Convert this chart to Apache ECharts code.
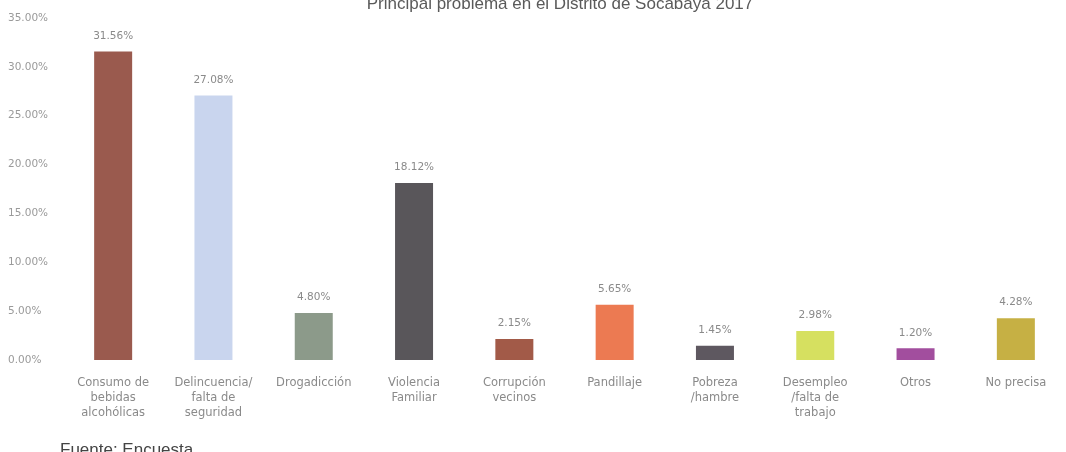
<!DOCTYPE html>
<html><head><meta charset="utf-8">
<script src="https://cdn.jsdelivr.net/npm/echarts@6/dist/echarts.min.js"></script>
<style>html,body{margin:0;padding:0;background:#fff;}#c{width:1066px;height:452px;}</style>
</head><body><div id="c"></div>
<script>
var categories = ["Consumo de\nbebidas\nalcohólicas","Delincuencia/\nfalta de\nseguridad","Drogadicción","Violencia\nFamiliar","Corrupción\nvecinos","Pandillaje","Pobreza\n/hambre","Desempleo\n/falta de\ntrabajo","Otros","No precisa"];
var values = [31.56, 27.08, 4.80, 18.12, 2.15, 5.65, 1.45, 2.98, 1.20, 4.28];
var colors = ["#9a5a4e","#c9d5ee","#8c9a8a","#59565a","#a25a48","#ec7a52","#5e5860","#d6e060","#a24e9e","#c6b044"];
var yTicks = [0,5,10,15,20,25,30,35];

var chart = echarts.init(document.getElementById('c'));
chart.setOption({
  animation:false,
  title:{text:"Principal problema en el Distrito de Socabaya 2017",left:555,textAlign:'center',top:-9,
    textStyle:{fontFamily:'Liberation Sans',fontSize:17,fontWeight:'normal',color:'#5a5a5a'}},
  graphic:[{type:'text',left:60,top:442,style:{text:'Fuente: Encuesta',font:'17px Liberation Sans',fill:'#444'}}],
  grid:{left:63,width:1010,top:18,bottom:92},
  xAxis:{type:'category',data:categories,axisLine:{show:false},axisTick:{show:false},
    axisLabel:{interval:0,color:'#8a8a8a',fontSize:11.5,fontFamily:'DejaVu Sans',lineHeight:15,margin:16}},
  yAxis:{type:'value',min:0,max:35,interval:5,splitLine:{show:false},axisLine:{show:false},axisTick:{show:false},
    axisLabel:{formatter:function(v){return v.toFixed(2)+'%';},color:'#9a9a9a',fontSize:10.5,fontFamily:'DejaVu Sans',align:'left',margin:55}},
  series:[{type:'bar',barWidth:38,
    data:values.map(function(v,i){return {value:v,itemStyle:{color:colors[i]}};}),
    label:{show:true,position:'top',distance:10,color:'#8a8a8a',fontSize:10.5,fontFamily:'DejaVu Sans',
      formatter:function(p){return p.value.toFixed(2)+'%';}}}]
});
</script></body></html>
